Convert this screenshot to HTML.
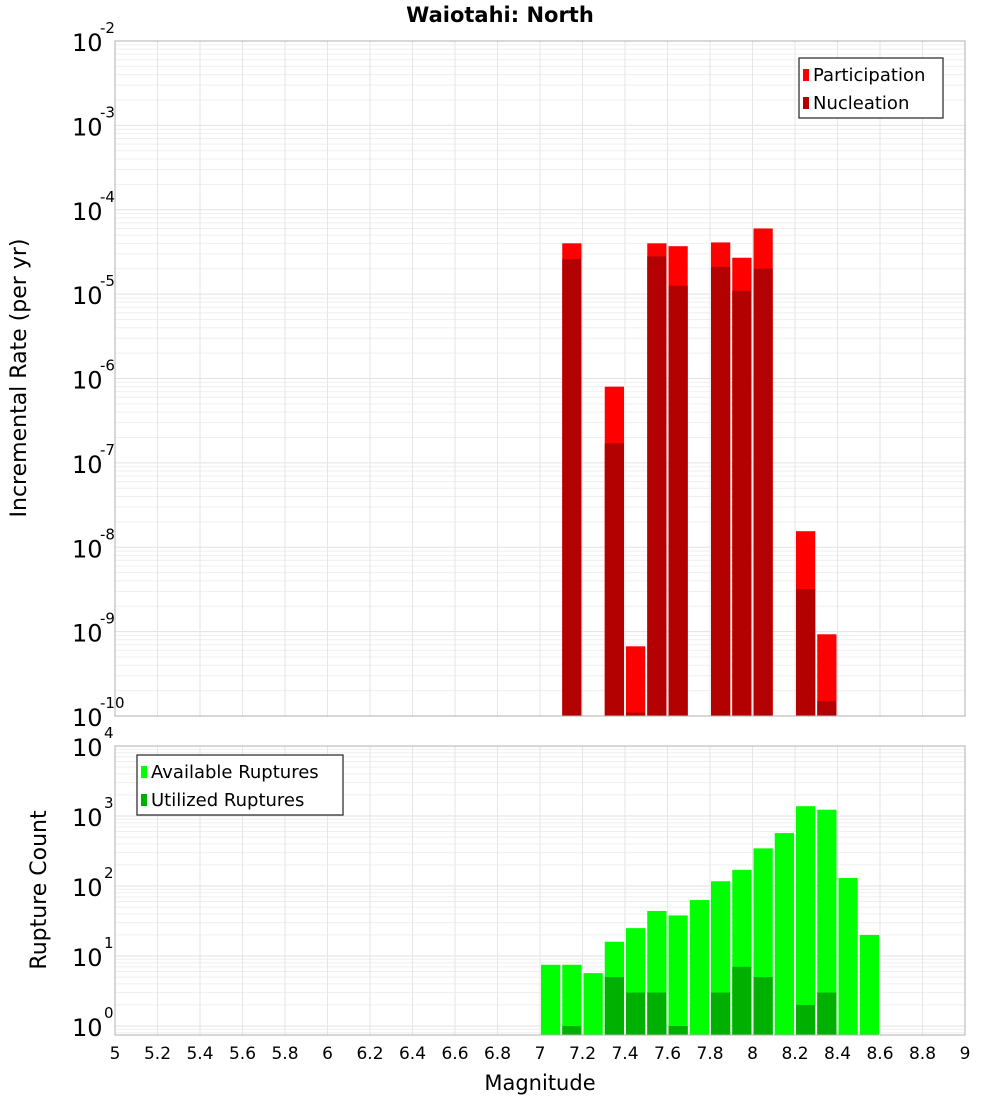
<!DOCTYPE html>
<html><head><meta charset="utf-8"><style>
body{margin:0;background:#fff;font-family:"DejaVu Sans","Liberation Sans",sans-serif;}
svg text{font-family:"DejaVu Sans","Liberation Sans",sans-serif;}
</style></head><body>
<svg id="chart" width="1000" height="1100" xmlns="http://www.w3.org/2000/svg">
<text x="500" y="22" text-anchor="middle" font-size="21" font-weight="bold">Waiotahi: North</text>
<g id="topPlot"></g><g id="botPlot"></g>
</svg>
<script>
const binStartsTop=[7.1,7.3,7.4,7.5,7.6,7.8,7.9,8.0,8.2,8.3];
const participation=[4e-5,8e-7,6.7e-10,4e-5,3.7e-5,4.1e-5,2.7e-5,6e-5,1.55e-8,9.3e-10];
const nucleation=[2.6e-5,1.7e-7,1.1e-10,2.8e-5,1.26e-5,2.1e-5,1.1e-5,2e-5,3.2e-9,1.5e-10];
const binStartsBot=[7.0,7.1,7.2,7.3,7.4,7.5,7.6,7.7,7.8,7.9,8.0,8.1,8.2,8.3,8.4,8.5];
const available=[7.5,7.5,5.7,16,25,44,38,63,117,170,345,570,1380,1230,130,20];
const utilized=[0,1,0,5,3,3,1,0,3,7,5,0,2,3,0,0];
const xTicks=[5,5.2,5.4,5.6,5.8,6,6.2,6.4,6.6,6.8,7,7.2,7.4,7.6,7.8,8,8.2,8.4,8.6,8.8,9];
const topExps=[-2,-3,-4,-5,-6,-7,-8,-9,-10];
const botExps=[4,3,2,1,0];

const NS="http://www.w3.org/2000/svg";
const L=115,R=965;
const X=v=>L+(v-5)/4*(R-L);
const T0=41,T1=716,B0=746,B1=1035;
const yTop=v=>T0+(-2-Math.log10(v))*(T1-T0)/8;
const yBot=v=>1026-Math.log10(v)*70;
function mk(p,tag,a,txt){const e=document.createElementNS(NS,tag);for(const k in a)e.setAttribute(k,a[k]);if(txt!=null)e.textContent=txt;p.appendChild(e);return e;}
function grid(g,y0,y1,decTop,decBot,yf){
  for(let d=decBot;d<decTop;d++)for(let m=1;m<10;m++){const y=yf(m*Math.pow(10,d));if(y>=y0&&y<=y1){
    const l=mk(g,'line',{x1:L,x2:R,y1:y,y2:y,stroke:m==1?'#e2e2e2':'#efefef','stroke-width':1});
    
    }}
  xTicks.forEach(t=>{const l=mk(g,'line',{x1:X(t),x2:X(t),y1:y0,y2:y1,stroke:'#e6e6e6'});
    
    });
}
const gTop=document.getElementById('topPlot'),gBot=document.getElementById('botPlot');
grid(gTop,T0,T1,-2,-10,yTop);
grid(gBot,B0,B1,4,-1,yBot);
const w=X(5.1)-X(5)-2;
binStartsTop.forEach((b,i)=>{
  let r=mk(gTop,'rect',{x:X(b)+1,y:yTop(participation[i]),width:w,height:T1-yTop(participation[i]),fill:'#ff0000'});
  
  
  r=mk(gTop,'rect',{x:X(b)+1,y:yTop(nucleation[i]),width:w,height:T1-yTop(nucleation[i]),fill:'#b30000'});
  
  
});
binStartsBot.forEach((b,i)=>{
  let r=mk(gBot,'rect',{x:X(b)+1,y:yBot(available[i]),width:w,height:B1-yBot(available[i]),fill:'#00ff00'});
  
  
  if(utilized[i]>0){r=mk(gBot,'rect',{x:X(b)+1,y:yBot(utilized[i]),width:w,height:B1-yBot(utilized[i]),fill:'#00b000'});
  
  }
});
let f=mk(gTop,'rect',{x:L,y:T0,width:R-L,height:T1-T0,fill:'none',stroke:'#b0b0b0'});

f=mk(gBot,'rect',{x:L,y:B0,width:R-L,height:B1-B0,fill:'none',stroke:'#b0b0b0'});

topExps.forEach(e=>{const y=yTop(Math.pow(10,e));
  const t=mk(gTop,'text',{x:72,y:y+10,'font-size':24},'10');
  
  const s=mk(gTop,'text',{x:100,y:y-8,'font-size':15},String(e));
  });
botExps.forEach(e=>{const y=yBot(Math.pow(10,e));
  const t=mk(gBot,'text',{x:72,y:y+10,'font-size':24},'10');
  
  const s=mk(gBot,'text',{x:104,y:y-8,'font-size':15},String(e));
  });
xTicks.forEach(t=>{const tx=mk(gBot,'text',{x:X(t),y:1059,'font-size':17,'text-anchor':'middle'},String(+t.toFixed(1)));
  });
let a=mk(gBot,'text',{x:540,y:1090,'font-size':21,'text-anchor':'middle'},'Magnitude');

a=mk(gTop,'text',{x:0,y:0,'font-size':22,'text-anchor':'middle',transform:'translate(26,378) rotate(-90)'},'Incremental Rate (per yr)');

a=mk(gBot,'text',{x:0,y:0,'font-size':22,'text-anchor':'middle',transform:'translate(46,890) rotate(-90)'},'Rupture Count');

function legend(g,x,y,wd,items,name){
  const bx=mk(g,'rect',{x:x,y:y,width:wd,height:60,fill:'#fff',stroke:'#333','stroke-width':1.3});
  
  items.forEach((it,i)=>{
    const sw=mk(g,'rect',{x:x+4,y:y+11+i*28,width:6,height:12,fill:it[1]});
    
    const t=mk(g,'text',{x:x+14,y:y+23+i*28,'font-size':18},it[0]);
    
  });
}
legend(gTop,799,58,144,[['Participation','#ff0000'],['Nucleation','#b30000']],'top-legend');
legend(gBot,137,755,206,[['Available Ruptures','#00ff00'],['Utilized Ruptures','#00b000']],'bottom-legend');
</script>
</body></html>
